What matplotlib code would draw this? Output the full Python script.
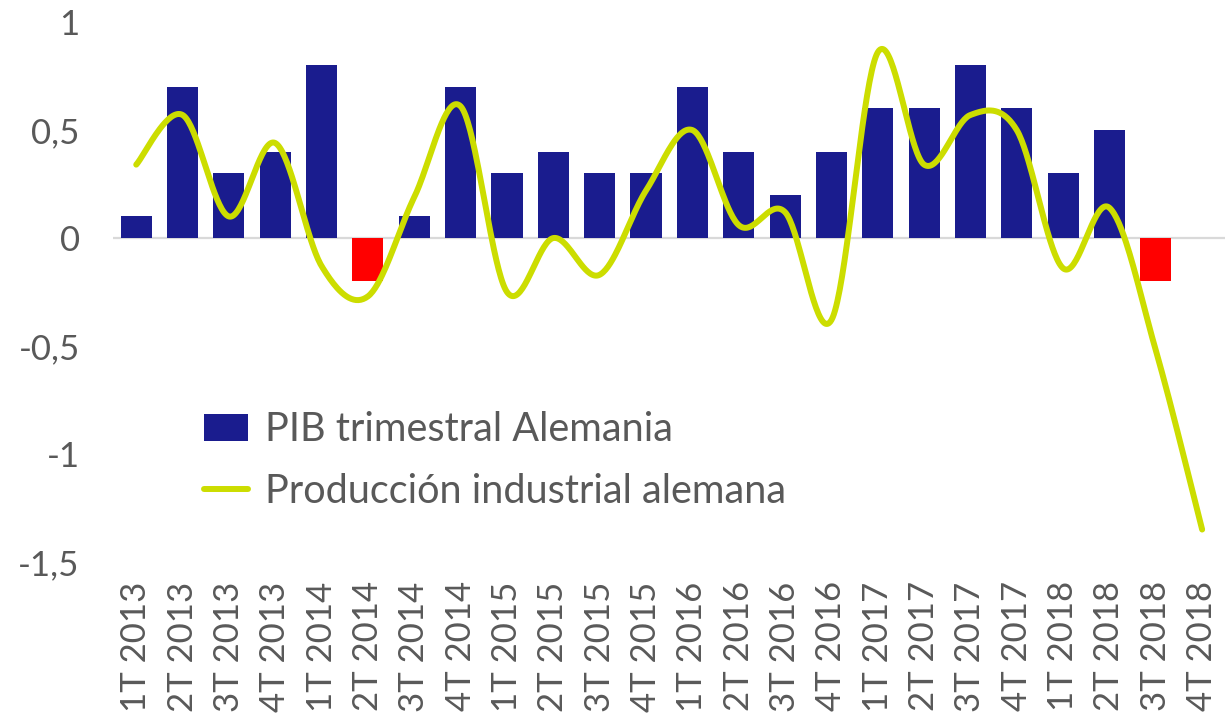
import numpy as np
import matplotlib
matplotlib.use("Agg")
import matplotlib.pyplot as plt
from matplotlib.patches import Patch
from matplotlib.lines import Line2D
from matplotlib.ticker import FuncFormatter

plt.rcParams['font.family'] = ['Lato', 'DejaVu Sans']

quarters = ["1T 2013", "2T 2013", "3T 2013", "4T 2013",
            "1T 2014", "2T 2014", "3T 2014", "4T 2014",
            "1T 2015", "2T 2015", "3T 2015", "4T 2015",
            "1T 2016", "2T 2016", "3T 2016", "4T 2016",
            "1T 2017", "2T 2017", "3T 2017", "4T 2017",
            "1T 2018", "2T 2018", "3T 2018", "4T 2018"]

# Quarterly GDP growth (last quarter not yet published)
pib = [0.1, 0.7, 0.3, 0.4,
       0.8, -0.2, 0.1, 0.7,
       0.3, 0.4, 0.3, 0.3,
       0.7, 0.4, 0.2, 0.4,
       0.6, 0.6, 0.8, 0.6,
       0.3, 0.5, -0.2, np.nan]

# Industrial production growth
produccion = [0.34, 0.57, 0.10, 0.44,
              -0.13, -0.27, 0.19, 0.61,
              -0.25, 0.00, -0.17, 0.22,
              0.50, 0.06, 0.12, -0.38,
              0.86, 0.34, 0.57, 0.50,
              -0.14, 0.14, -0.52, -1.35]

yticks = [-1.5, -1.0, -0.5, 0.0, 0.5, 1.0]

NAVY = "#1A1C8E"
RED = "#FF0000"
LIME = "#CCDD00"
GREY = "#595959"


def smooth_curve(x, y, steps=40):
    """Cubic Bezier smoothing through every point (spreadsheet-style)."""
    x = np.asarray(x, float)
    y = np.asarray(y, float)
    n = len(x)
    xs, ys = [], []
    for i in range(n - 1):
        p0 = np.array([x[max(i - 1, 0)], y[max(i - 1, 0)]])
        p1 = np.array([x[i], y[i]])
        p2 = np.array([x[i + 1], y[i + 1]])
        p3 = np.array([x[min(i + 2, n - 1)], y[min(i + 2, n - 1)]])
        c1 = p1 + (p2 - p0) / 6.0
        c2 = p2 - (p3 - p1) / 6.0
        t = np.linspace(0, 1, steps)[:, None]
        pts = ((1 - t) ** 3) * p1 + 3 * ((1 - t) ** 2) * t * c1 \
            + 3 * (1 - t) * t ** 2 * c2 + t ** 3 * p2
        xs.extend(pts[:, 0])
        ys.extend(pts[:, 1])
    return np.array(xs), np.array(ys)


fig = plt.figure(figsize=(12.29, 7.14), dpi=100)
ax = fig.add_axes([0.092, 0.213, 0.905, 0.756])

x = np.arange(len(quarters))
pib_arr = np.array(pib, float)
colors = [RED if (not np.isnan(v) and v < 0) else NAVY for v in pib_arr]
ax.bar(x, np.nan_to_num(pib_arr), width=0.67, color=colors, zorder=2)

ax.axhline(0, color="#D9D9D9", linewidth=1.6, zorder=1)

sx, sy = smooth_curve(x, produccion)
ax.plot(sx, sy, color=LIME, linewidth=4.3, solid_capstyle="round", zorder=3)

ax.set_xlim(-0.5, len(quarters) - 0.5)
ax.set_ylim(-1.5, 1.0)
ax.set_yticks(yticks)
ax.yaxis.set_major_formatter(FuncFormatter(
    lambda v, p: ("%g" % v).replace(".", ",")))
ax.set_xticks(x)
ax.set_xticklabels(quarters, rotation=90)

for s in ax.spines.values():
    s.set_visible(False)
ax.tick_params(axis="both", length=0, labelsize=25, labelcolor=GREY)
ax.tick_params(axis="x", pad=14)
ax.tick_params(axis="y", pad=24)

handles = [Patch(facecolor=NAVY, edgecolor="none"),
           Line2D([0], [0], color=LIME, linewidth=4.3, solid_capstyle="round")]
leg = ax.legend(handles, ["PIB trimestral Alemania", "Producción industrial alemana"],
                loc="upper left", bbox_to_anchor=(0.166, 0.424),
                bbox_transform=fig.transFigure, frameon=False,
                fontsize=28.5, labelcolor=GREY, handlelength=1.1, handleheight=0.7,
                handletextpad=0.45, labelspacing=0.62, borderpad=0,
                borderaxespad=0)

fig.savefig("out.png", dpi=100, facecolor="white")
